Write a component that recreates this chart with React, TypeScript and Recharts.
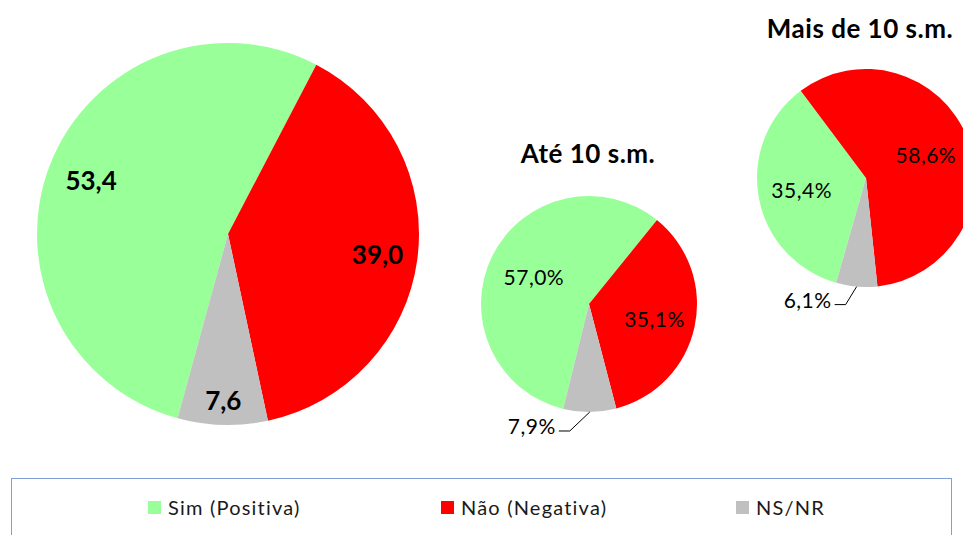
import { PieChart, Pie, Cell } from "recharts"

const categories = ["Sim (Positiva)", "Não (Negativa)", "NS/NR"]
const totalValues = [53.4, 39.0, 7.6]
const ate10Values = [57.0, 35.1, 7.9]
const mais10Values = [35.4, 58.6, 6.1]
const titles = ["Até 10 s.m.", "Mais de 10 s.m."]

const COLORS = ["#99ff99", "#ff0000", "#c0c0c0"]
const FONT = "Lato, 'Open Sans', sans-serif"
const RAD = Math.PI / 180

function toData(values: number[]) {
	return categories.map((name, i) => ({ name, value: values[i] }))
}

type LabelOpts = {
	radii: number[]
	suffix: string
	bold: boolean
	size: number
	spacing: number
	outside?: number
	leader?: [number, number, number]
}

function makeLabel(opts: LabelOpts) {
	return (props: any) => {
		const { cx, cy, midAngle, outerRadius, index, value } = props
		const text = Number(value).toFixed(1).replace(".", ",") + opts.suffix
		const cos = Math.cos(-midAngle * RAD)
		const sin = Math.sin(-midAngle * RAD)
		const style = {
			fontFamily: FONT,
			fontSize: opts.size,
			fontWeight: opts.bold ? 700 : 400,
			letterSpacing: opts.spacing,
		}
		if (index === opts.outside && opts.leader) {
			const [ldx, ldy, lh] = opts.leader
			const sx = cx + outerRadius * cos
			const sy = cy + outerRadius * sin
			const mx = sx + ldx
			const my = sy + ldy
			const ex = mx - lh
			return (
				<g>
					<polyline points={`${sx},${sy} ${mx},${my} ${ex},${my}`} fill="none" stroke="#000" strokeWidth={1} />
					<text x={ex - 3} y={my - 5} textAnchor="end" dominantBaseline="central" fill="#000" style={style}>
						{text}
					</text>
				</g>
			)
		}
		const r = outerRadius * opts.radii[index]
		return (
			<text x={cx + r * cos} y={cy + r * sin} textAnchor="middle" dominantBaseline="central" fill="#000" style={style}>
				{text}
			</text>
		)
	}
}

const titleStyle = {
	position: "absolute" as const,
	width: 240,
	textAlign: "center" as const,
	fontFamily: FONT,
	fontWeight: 700,
	fontSize: 26,
	letterSpacing: 0.5,
	lineHeight: "30px",
	color: "#000",
	whiteSpace: "nowrap" as const,
}

export default function App() {
	return (
		<div style={{ position: "relative", width: 963, height: 535, overflow: "hidden", background: "#fff" }}>
			<style>{"body{margin:0}"}</style>
			<PieChart
				width={963}
				height={535}
				margin={{ top: 0, right: 0, bottom: 0, left: 0 }}
				style={{ position: "absolute", left: 0, top: 0 }}
			>
				<Pie
					data={toData(totalValues)}
					dataKey="value"
					cx={228}
					cy={234}
					outerRadius={191}
					startAngle={-105.3}
					endAngle={-465.3}
					stroke="none"
					isAnimationActive={false}
					labelLine={false}
					label={makeLabel({ radii: [0.77, 0.79, 0.87], suffix: "", bold: true, size: 26, spacing: 0 })}
				>
					{COLORS.map((c) => (
						<Cell key={c} fill={c} />
					))}
				</Pie>
				<Pie
					data={toData(ate10Values)}
					dataKey="value"
					cx={589}
					cy={304}
					outerRadius={108}
					startAngle={-103.8}
					endAngle={-463.8}
					stroke="none"
					isAnimationActive={false}
					labelLine={false}
					label={makeLabel({
						radii: [0.57, 0.62, 1],
						suffix: "%",
						bold: false,
						size: 21,
						spacing: 0.5,
						outside: 2,
						leader: [-20, 19, 11],
					})}
				>
					{COLORS.map((c) => (
						<Cell key={c} fill={c} />
					))}
				</Pie>
				<Pie
					data={toData(mais10Values)}
					dataKey="value"
					cx={866}
					cy={178}
					outerRadius={109}
					startAngle={-105.9}
					endAngle={-465.9}
					stroke="none"
					isAnimationActive={false}
					labelLine={false}
					label={makeLabel({
						radii: [0.6, 0.59, 1],
						suffix: "%",
						bold: false,
						size: 21,
						spacing: 0.5,
						outside: 2,
						leader: [-11, 18, 11],
					})}
				>
					{COLORS.map((c) => (
						<Cell key={c} fill={c} />
					))}
				</Pie>
			</PieChart>
			<div style={{ ...titleStyle, left: 588 - 120, top: 138 }}>{titles[0]}</div>
			<div style={{ ...titleStyle, left: 860 - 120, top: 13 }}>{titles[1]}</div>
			<div
				style={{
					position: "absolute",
					left: 11,
					top: 478,
					width: 941,
					height: 80,
					border: "1px solid #7f9fd6",
					boxSizing: "border-box",
				}}
			/>
			{categories.map((name, i) => (
				<div
					key={name}
					style={{
						position: "absolute",
						left: [148, 441, 736][i],
						top: 494,
						height: 26,
						display: "flex",
						alignItems: "center",
						gap: 7,
						fontFamily: FONT,
						fontSize: 20,
						letterSpacing: 1.2,
						color: "#1a1a1a",
						whiteSpace: "nowrap",
					}}
				>
					<span style={{ width: 13, height: 13, background: COLORS[i], display: "inline-block" }} />
					<span>{name}</span>
				</div>
			))}
		</div>
	)
}
